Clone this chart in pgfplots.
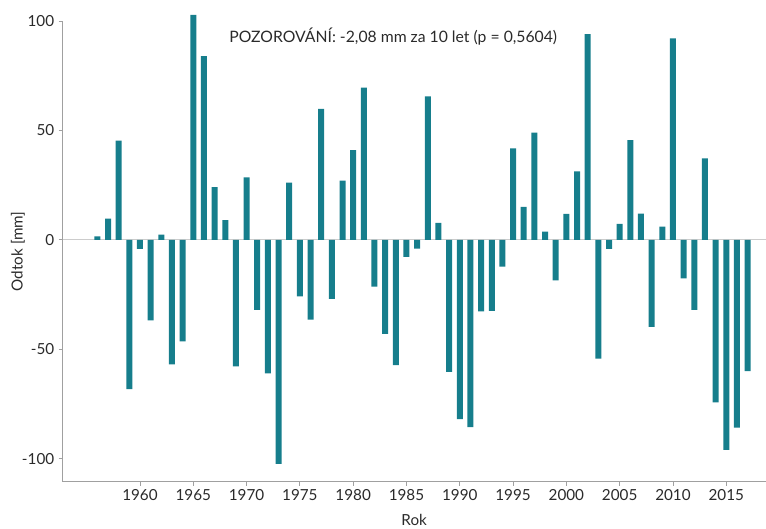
\documentclass[border=0pt]{standalone}
\usepackage{fontspec}
\setmainfont{Lato}
\usepackage{pgfplots}
\pgfplotsset{compat=1.18}
\definecolor{barc}{HTML}{167E8C}
\definecolor{axc}{HTML}{A0A0A0}
\definecolor{zeroc}{HTML}{CCCCCC}
\definecolor{txt}{HTML}{2A2A2A}

\pgfplotstableread{
year val
1956 1.6
1957 9.7
1958 45.3
1959 -68.2
1960 -4.1
1961 -36.8
1962 2.4
1963 -56.9
1964 -46.4
1965 102.8
1966 84.0
1967 24.1
1968 9.0
1969 -57.8
1970 28.5
1971 -32.0
1972 -61.0
1973 -102.4
1974 26.1
1975 -25.8
1976 -36.5
1977 59.9
1978 -27.0
1979 27.1
1980 41.0
1981 69.6
1982 -21.4
1983 -42.9
1984 -57.2
1985 -7.8
1986 -4.0
1987 65.6
1988 7.8
1989 -60.3
1990 -81.9
1991 -85.6
1992 -32.7
1993 -32.4
1994 -12.2
1995 41.8
1996 15.1
1997 49.0
1998 3.8
1999 -18.5
2000 11.9
2001 31.3
2002 94.0
2003 -54.3
2004 -4.1
2005 7.3
2006 45.6
2007 12.0
2008 -39.8
2009 6.1
2010 92.1
2011 -17.6
2012 -32.0
2013 37.2
2014 -74.3
2015 -96.0
2016 -85.8
2017 -60.0
}\odtok

\begin{document}
\begin{tikzpicture}
\begin{axis}[
  scale only axis,
  width=703bp, height=460.7bp,
  xmin=1952.75, xmax=2018.7,
  ymin=-110.5, ymax=100,
  clip=false,
  axis x line*=bottom,
  axis y line*=left,
  axis line style={axc, line width=1.3bp},
  tick align=outside,
  major tick length=4bp,
  tick style={axc, line width=0.8bp},
  xtick={1960,1965,...,2015},
  xticklabels={1960,1965,1970,1975,1980,1985,1990,1995,2000,2005,2010,2015},
  ytick={-100,-50,0,50,100},
  yticklabels={-100,-50,0,50,100},
  tick label style={font=\fontsize{15.3}{17}\selectfont, text=txt},
  label style={font=\fontsize{15.3}{17}\selectfont, text=txt},
  xlabel={Rok},
  ylabel={Odtok [mm]},
  xlabel style={at={(rel axis cs:0.5,0)}, anchor=center, yshift=-38.5bp},
  ylabel style={at={(rel axis cs:0,0.5)}, anchor=center, yshift=44.7bp},
  yticklabel style={xshift=-1bp},
  xticklabel style={yshift=-0.5bp},
]
\addplot[zeroc, line width=0.8bp, forget plot] coordinates {(1952.75,0) (2018.7,0)};
\addplot[ybar, bar width=6bp, bar shift=0pt, fill=barc, draw=none] table[x=year, y=val] {\odtok};
\node[font=\fontsize{15.8}{18}\selectfont, text=txt] at (axis cs:1983.76,93.0) {POZOROVÁNÍ: -2,08 mm za 10 let (p = 0,5604)};
\end{axis}
\pgfresetboundingbox
\path[use as bounding box] (-62.7bp,-47.3bp) rectangle (703.3bp,481.7bp);
\end{tikzpicture}
\end{document}
